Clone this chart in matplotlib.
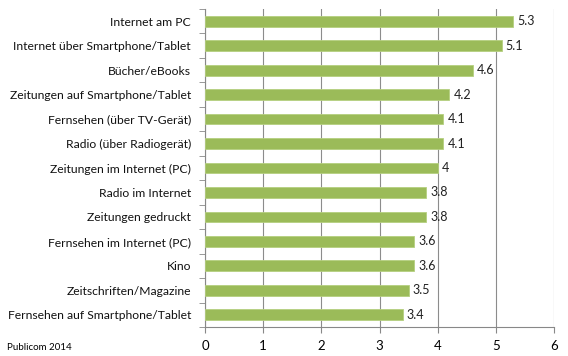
import matplotlib.pyplot as plt

categories = [
    "Internet am PC",
    "Internet über Smartphone/Tablet",
    "Bücher/eBooks",
    "Zeitungen auf Smartphone/Tablet",
    "Fernsehen (über TV-Gerät)",
    "Radio (über Radiogerät)",
    "Zeitungen im Internet (PC)",
    "Radio im Internet",
    "Zeitungen gedruckt",
    "Fernsehen im Internet (PC)",
    "Kino",
    "Zeitschriften/Magazine",
    "Fernsehen auf Smartphone/Tablet",
]
values = [5.3, 5.1, 4.6, 4.2, 4.1, 4.1, 4, 3.8, 3.8, 3.6, 3.6, 3.5, 3.4]
labels = ["5.3", "5.1", "4.6", "4.2", "4.1", "4.1", "4", "3.8", "3.8", "3.6", "3.6", "3.5", "3.4"]

plt.rcParams['font.family'] = ['Lato', 'DejaVu Sans']

fig = plt.figure(figsize=(5.68, 3.56), dpi=100)
ax = fig.add_axes([205 / 568, 29 / 356, 349 / 568, 318 / 356])

ypos = list(range(len(categories)))[::-1]
ax.barh(ypos, values, height=0.44, color="#9BBB59", edgecolor="#b5cf7f", linewidth=0.6, zorder=3)

for y, v, t in zip(ypos, values, labels):
    ax.text(v + 0.07, y, t, va="center", ha="left", fontsize=9, color="#222222")

ax.set_xlim(0, 6)
ax.set_ylim(-0.5, len(categories) - 0.5)
ax.set_xticks(range(7))
ax.set_yticks(ypos)
ax.set_yticklabels(categories, fontsize=8.7, color="#111111")
ax.set_yticks([i - 0.5 for i in range(len(categories) + 1)], minor=True)
ax.tick_params(axis="y", which="major", length=0, pad=10)
ax.tick_params(axis="y", which="minor", length=4, color="#888888")
ax.tick_params(axis="x", length=4, color="#888888", labelsize=9.5, pad=5)

ax.xaxis.grid(True, color="#8c8c8c", linewidth=0.8, zorder=0)
for s in ["top", "right"]:
    ax.spines[s].set_visible(False)
for s in ["left", "bottom"]:
    ax.spines[s].set_color("#888888")
    ax.spines[s].set_linewidth(0.8)

fig.text(7 / 568, 1 - 347 / 356, "Publicom 2014", fontsize=7, va="center", ha="left")

fig.savefig("out.png", dpi=100)
